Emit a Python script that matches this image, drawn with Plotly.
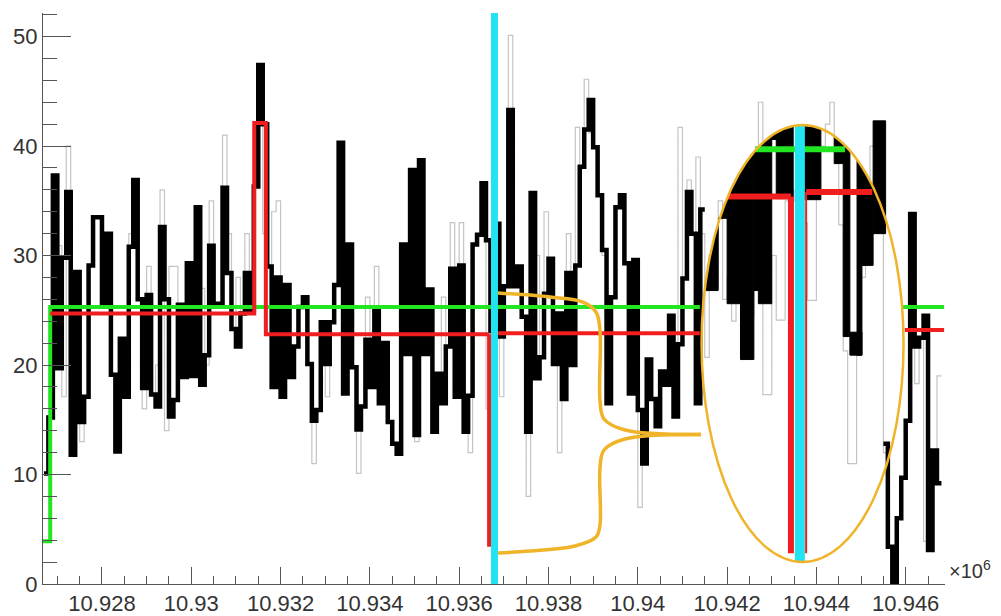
import plotly.graph_objects as go
import math

# ---------------- data ----------------
BIN_START = 10.9267      # x (in units of 1e6)
BIN_WIDTH = 0.0001

# thick black histogram (None = region covered by the ellipse illustration)
BLACK = [
    10.1, 15.2, 37.3, 19.7, 29.8, 35.8, 11.8, 28.5, 14.8, 17.1,
    29.1, 33.5, 33.5, 25.5, 32.0, 19.1, 12.1, 22.4, 17.1, 30.8,
    36.9, 26.0, 17.9, 26.4, 17.3, 16.2, 32.6, 26.0, 15.3, 16.8,
    25.5, 18.9, 29.3, 19.0, 34.4, 18.2, 20.9, 30.9, 25.6, 25.6,
    36.2, 28.4, 23.3, 21.7, 24.7, 28.4, 25.0, 36.3, 47.4, 42.0,
    29.0, 18.0, 28.0, 17.1, 27.3, 18.9, 21.7, 25.3, 26.2, 20.1,
    14.9, 15.9, 23.9, 20.1, 23.9, 27.3, 40.3, 17.4, 31.0, 19.8,
    14.1, 16.2, 22.3, 18.0, 25.1, 16.5, 22.0, 14.8, 12.8, 11.9,
    31.0, 21.0, 37.8, 13.6, 38.7, 21.0, 26.9, 13.9, 19.2, 16.5,
    21.7, 28.8, 17.1, 29.1, 13.9, 17.2, 31.0, 31.9, 36.6, 31.4,
    23.1, 32.9, 22.6, 27.2, 43.3, 27.2, 29.0, 24.4, 13.9, 35.7,
    18.8, 20.7, 26.5, 29.7, 20.1, 24.7, 16.9, 28.4, 20.0, 29.1,
    38.1, 41.5, 44.2, 39.9, 35.5, 30.5, 16.5, 26.2, 34.4, 35.5,
    29.3, 17.4, 29.6, 15.9, 11.0, 20.5, 16.9, 14.4, 19.4, 18.2,
    24.5, 15.3, 21.9, 27.9, 35.8, 32.0, 16.5, 34.2, None, None,
    None, None, None, None, None, None, None, None, None, None,
    None, None, None, None, None, None, None, None, None, None,
    None, None, None, None, None, None, None, None, None, None,
    None, None, None, None, None, None, None, None, 12.8, 3.4,
    0.0, 6.0, 9.7, 14.9, 33.8, 21.7, 22.5, 24.5, 3.1, 12.2,
    9.2,
]

# thin grey histogram
GREY = [
    10.1, 15.2, 37.3, 30.9, 17.1, 40.0, 11.8, 28.5, 13.0, 17.1,
    29.1, 33.5, 33.5, 25.5, 32.0, 19.1, 12.1, 22.4, 22.0, 32.0,
    36.9, 26.0, 16.0, 29.0, 17.3, 20.0, 36.0, 14.0, 29.0, 29.0,
    25.5, 18.9, 29.3, 19.0, 34.4, 27.0, 20.0, 35.0, 25.6, 25.6,
    41.0, 32.0, 23.3, 28.0, 24.7, 32.0, 25.0, 36.3, 47.4, 32.0,
    29.0, 34.0, 35.0, 17.1, 27.3, 19.0, 21.7, 25.3, 26.2, 20.1,
    11.0, 15.9, 23.9, 17.1, 23.9, 27.3, 40.3, 17.4, 31.0, 19.8,
    10.1, 16.2, 26.2, 18.0, 29.0, 16.5, 22.0, 14.8, 12.8, 11.9,
    31.0, 21.0, 37.8, 13.0, 38.7, 21.0, 26.9, 14.0, 19.2, 26.2,
    21.7, 33.0, 17.1, 33.0, 13.9, 12.0, 31.0, 31.9, 36.6, 16.0,
    23.1, 32.9, 17.1, 27.2, 50.1, 27.2, 29.0, 24.4, 8.0, 35.7,
    30.0, 20.7, 34.0, 29.7, 20.1, 12.0, 16.9, 32.0, 20.0, 41.7,
    38.1, 46.1, 41.2, 39.9, 35.5, 30.0, 22.0, 26.2, 34.4, 35.5,
    29.3, 17.4, 29.6, 7.0, 11.0, 20.5, 16.9, 14.4, 19.4, 18.2,
    24.5, 15.3, 41.7, 27.9, 36.9, 32.0, 39.0, 32.0, 20.7, 30.0,
    27.0, 35.0, 26.0, 28.0, 24.0, 27.0, 21.0, 29.6, 24.4, 27.0,
    44.0, 17.3, 17.3, 30.0, 24.1, 24.1, 35.0, 36.0, 35.0, 35.0,
    33.0, 25.9, 25.9, 36.0, 40.0, 42.0, 44.0, 38.4, 32.8, 21.3,
    11.0, 11.0, 21.0, 28.0, 30.0, 40.0, 40.0, 33.0, 12.0, 3.4,
    0.0, 6.0, 9.7, 14.9, 33.8, 18.3, 22.5, 3.9, 3.9, 12.2,
    19.0,
]

# black columns inside the ellipse: left, right, bottom, top (None = ellipse edge)
COL_X0 = [10.9415, 10.9418, 10.9420, 10.9423, 10.9426, 10.9427, 10.9430, 10.9431,
          10.9437, 10.9444, 10.9446, 10.94475, 10.94491, 10.94502, 10.94527]
COL_X1 = [10.9418, 10.9420, 10.9423, 10.9426, 10.9427, 10.9430, 10.9431, 10.94348,
          10.9441, 10.9446, 10.94475, 10.94502, 10.94502, 10.94527, 10.94555]
COL_BOTTOM = [26.8, 33.4, 25.6, 20.5, 26.8, 25.6, 40.6, 35.2,
              35.1, 38.4, 22.6, 20.9, 20.9, 29.1, 32.0]
COL_TOP = [None, None, None, None, None, None, None, None,
           None, None, None, 23.0, None, None, 42.3]

# ellipse (orange)
ELL_CX, ELL_CY = 10.94369, 21.96
ELL_RX, ELL_RY = 0.002262, 19.95

# red block lines: (edges, values, drop_at_start, drop_at_end, width)
RED_BLOCKS = [
    ([10.92684, 10.93141, 10.93167, 10.93667], [24.7, 42.1, 22.8], None, 3.4, 4),
    ([10.93687, 10.94139], [22.9], None, None, 4),
    ([10.94202, 10.94343], [35.4], None, 2.8, 6),
    ([10.94377, 10.94525], [35.8], 2.8, None, 6),
    ([10.94598, 10.94686], [23.2], None, None, 4),
]
# green block lines
GREEN_BLOCKS = [
    ([10.92668, 10.92684, 10.94139], [3.9, 25.3], 4),
    ([10.94263, 10.94464], [39.7], 6),
    ([10.94594, 10.94686], [25.3], 4),
]
# cyan markers
CYAN_X = [10.93679, 10.94363]
CYAN_Y0 = [0.0, 2.0]
CYAN_Y1 = [52.4, 41.9]
CYAN_W = [7, 10]

# orange brace (upper and lower halves)
BRACE_UP_X = [10.936869, 10.938034, 10.938773, 10.939064, 10.939153, 10.939153,
              10.939243, 10.939713, 10.941415]
BRACE_UP_Y = [26.58, 26.21, 25.75, 24.84, 23.20, 16.80, 15.07, 14.06, 13.65]
BRACE_LO_X = [10.941415, 10.939713, 10.939243, 10.939153, 10.939153, 10.939064,
              10.938593, 10.937586, 10.936869]
BRACE_LO_Y = [13.65, 13.24, 12.24, 10.59, 5.39, 4.29, 3.47, 3.01, 2.83]

X_TICKS = [10.928, 10.930, 10.932, 10.934, 10.936, 10.938, 10.940, 10.942, 10.944, 10.946]
X_TICKTEXT = ["10.928", "10.93", "10.932", "10.934", "10.936", "10.938",
              "10.94", "10.942", "10.944", "10.946"]
Y_TICKS = [0, 10, 20, 30, 40, 50]

X_RANGE = [10.926679, 10.94688]
Y_RANGE = [0, 52.15]

# ---------------- colours ----------------
BLACK_C = "#000000"
GREY_C = "#c4c4c4"
RED_C = "#f01e1e"
GREEN_C = "#22e622"
CYAN_C = "#22e3f2"
ORANGE_C = "#f0b42a"
AXIS_C = "#555555"
TEXT_C = "#333333"
FONT = "Liberation Sans, Arial, sans-serif"

fig = go.Figure()


def edges_for(n):
    return [round(BIN_START + BIN_WIDTH * k, 6) for k in range(n + 1)]


def step_runs(vals):
    e = edges_for(len(vals))
    runs, i = [], 0
    while i < len(vals):
        if vals[i] is None:
            i += 1
            continue
        j = i
        while j + 1 < len(vals) and vals[j + 1] is not None:
            j += 1
        xs = e[i:j + 2]
        ys = vals[i:j + 1] + [vals[j]]
        runs.append((xs, ys))
        i = j + 1
    return runs


# grey histogram
for xs, ys in step_runs(GREY):
    fig.add_trace(go.Scatter(x=xs, y=ys, mode="lines", line_shape="hv",
                             line=dict(color=GREY_C, width=1.2), hoverinfo="skip"))

# black histogram
for xs, ys in step_runs(BLACK):
    fig.add_trace(go.Scatter(x=xs, y=ys, mode="lines", line_shape="hv",
                             line=dict(color=BLACK_C, width=4.5), hoverinfo="skip"))


def ell_top(x):
    t = (x - ELL_CX) / ELL_RX
    if abs(t) >= 1:
        return ELL_CY
    return ELL_CY + ELL_RY * math.sqrt(1 - t * t)


# black columns inside ellipse
for x0, x1, b, tp in zip(COL_X0, COL_X1, COL_BOTTOM, COL_TOP):
    n = 12
    xs_top = [x0 + (x1 - x0) * k / n for k in range(n + 1)]
    if tp is None:
        ys_top = [max(b, ell_top(x)) for x in xs_top]
    else:
        ys_top = [tp] * (n + 1)
    xs = xs_top + [x1, x0, x0]
    ys = ys_top + [b, b, ys_top[0]]
    fig.add_trace(go.Scatter(x=xs, y=ys, mode="lines", fill="toself",
                             fillcolor=BLACK_C, line=dict(color=BLACK_C, width=1),
                             hoverinfo="skip"))

# green lines
for edges, vals, w in GREEN_BLOCKS:
    fig.add_trace(go.Scatter(x=edges, y=vals + [vals[-1]], mode="lines", line_shape="hv",
                             line=dict(color=GREEN_C, width=w), hoverinfo="skip"))

# red lines
for edges, vals, d0, d1, w in RED_BLOCKS:
    xs = list(edges)
    ys = vals + [vals[-1]]
    fig.add_trace(go.Scatter(x=xs, y=ys, mode="lines", line_shape="hv",
                             line=dict(color=RED_C, width=w), hoverinfo="skip"))
    if d1 is not None:
        fig.add_trace(go.Scatter(x=[edges[-1], edges[-1]], y=[vals[-1], d1], mode="lines",
                                 line=dict(color=RED_C, width=w), hoverinfo="skip"))
    if d0 is not None:
        fig.add_trace(go.Scatter(x=[edges[0], edges[0]], y=[vals[0], d0], mode="lines",
                                 line=dict(color=RED_C, width=2), hoverinfo="skip"))

# cyan lines
for cx, y0, y1, w in zip(CYAN_X, CYAN_Y0, CYAN_Y1, CYAN_W):
    fig.add_trace(go.Scatter(x=[cx, cx], y=[y0, y1], mode="lines",
                             line=dict(color=CYAN_C, width=w), hoverinfo="skip"))

# orange brace
for bx, by in ((BRACE_UP_X, BRACE_UP_Y), (BRACE_LO_X, BRACE_LO_Y)):
    fig.add_trace(go.Scatter(x=bx, y=by, mode="lines", line_shape="spline",
                             line=dict(color=ORANGE_C, width=3.5, smoothing=1.0),
                             hoverinfo="skip"))

# orange ellipse
fig.add_shape(type="circle", xref="x", yref="y",
              x0=ELL_CX - ELL_RX, x1=ELL_CX + ELL_RX,
              y0=ELL_CY - ELL_RY, y1=ELL_CY + ELL_RY,
              line=dict(color=ORANGE_C, width=2.5), layer="above")

minor_x = [round(10.9265 + 0.0005 * k, 5) for k in range(0, 42)]
minor_y = [2 * k for k in range(0, 27)]

fig.add_annotation(text="×10<sup>6</sup>", xref="paper", yref="paper",
                   x=1.002, y=0.025, xanchor="left", yanchor="middle", showarrow=False,
                   font=dict(family=FONT, size=20, color=TEXT_C))

# the page body adds an 8px offset; size the figure so the plot lands in place
fig.update_layout(
    width=993, height=608,
    margin=dict(l=35, r=56, t=5, b=32, autoexpand=False),
    plot_bgcolor="white", paper_bgcolor="white",
    showlegend=False,
    xaxis=dict(range=X_RANGE, showgrid=False, zeroline=False, showline=True,
               automargin=False,
               linecolor=AXIS_C, linewidth=1, ticks="inside", ticklen=17,
               tickcolor=AXIS_C, tickwidth=1, tickmode="array",
               tickvals=X_TICKS, ticktext=X_TICKTEXT,
               tickfont=dict(family=FONT, size=22, color=TEXT_C),
               minor=dict(ticks="inside", ticklen=8, tickcolor=AXIS_C, tickwidth=1,
                          tickmode="array", tickvals=minor_x, showgrid=False)),
    yaxis=dict(range=Y_RANGE, showgrid=False, zeroline=False, showline=True,
               automargin=False,
               linecolor=AXIS_C, linewidth=1, ticks="inside", ticklen=28,
               tickcolor=AXIS_C, tickwidth=1, tickmode="array", tickvals=Y_TICKS,
               tickfont=dict(family=FONT, size=22, color=TEXT_C),
               minor=dict(ticks="inside", ticklen=14, tickcolor=AXIS_C, tickwidth=1,
                          tickmode="array", tickvals=minor_y, showgrid=False)),
)

fig.write_html("out.html")
